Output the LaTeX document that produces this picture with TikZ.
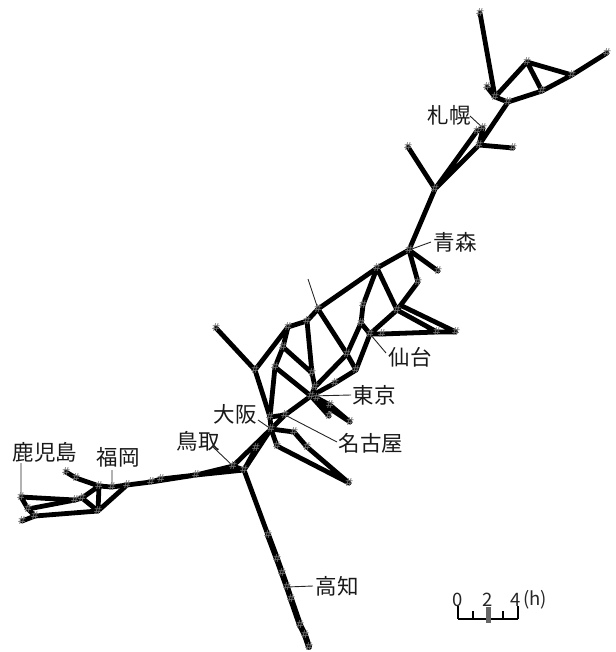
\documentclass[tikz,border=0pt]{standalone}
\usepackage{fontspec}
\setmainfont{Noto Sans CJK JP}
\newfontfamily\hashfont{DejaVu Sans}
\tikzset{
  edge/.style={line width=4.8pt,black,line cap=round,line join=round},
  heavy/.style={line width=6pt,black,line cap=round},
  leader/.style={line width=0.9pt,black!85},
  hashmark/.style={inner sep=0pt,text=black!55,font=\hashfont\fontsize{11}{11}\selectfont},
  lbl/.style={inner sep=0pt,text=black!90,font=\fontsize{21.5}{22}\selectfont},
  scalelbl/.style={inner sep=0pt,text=black!85,font=\fontsize{18.5}{19}\selectfont},
  scaleline/.style={line width=2.8pt,black},
}
\begin{document}
\begin{tikzpicture}[x=1pt,y=-1pt]
\useasboundingbox (0,0) rectangle (615,652);
% stations
\coordinate (a1) at (480,13); \coordinate (a2) at (495,97); \coordinate (a3) at (487,87);
\coordinate (a4) at (527,62); \coordinate (a5) at (508,102); \coordinate (a6) at (542,91);
\coordinate (a7) at (572,75); \coordinate (a8) at (607,53);
\coordinate (b1) at (483,128); \coordinate (b2) at (477,131); \coordinate (b3) at (479,145);
\coordinate (b4) at (513,148); \coordinate (b5) at (408,147); \coordinate (b6) at (435,189);
\coordinate (c1) at (409,250); \coordinate (c2) at (438,271); \coordinate (c3) at (418,282);
\coordinate (c4) at (377,268); \coordinate (c5) at (397,310); \coordinate (c5b) at (402,306);
\coordinate (c6) at (456,332); \coordinate (c7) at (437,332); \coordinate (c8) at (382,334);
\coordinate (c9) at (370,334);
\coordinate (d1) at (363,305); \coordinate (d2) at (361,323); \coordinate (d3) at (347,354);
\coordinate (d4) at (356,370); \coordinate (d5) at (318,309); \coordinate (d5t) at (308,279);
\coordinate (d6) at (307,321); \coordinate (d7) at (288,327); \coordinate (d8) at (216,328);
\coordinate (e1) at (255,370); \coordinate (e2) at (283,347); \coordinate (e3) at (275,367);
\coordinate (e4) at (312,373); \coordinate (e5) at (315,387); \coordinate (e6) at (335,383);
\coordinate (e7) at (311,396); \coordinate (e8) at (317,398); \coordinate (e9) at (330,405);
\coordinate (e10) at (329,416); \coordinate (e11) at (350,422);
\coordinate (f1) at (270,417); \coordinate (f2) at (285,415); \coordinate (f3) at (271,429);
\coordinate (f4) at (294,432); \coordinate (f5) at (277,446); \coordinate (f6) at (307,447);
\coordinate (f7) at (349,483); \coordinate (f8) at (256,448); \coordinate (f9) at (233,466);
\coordinate (f10) at (244,470);
\coordinate (g1) at (196,475); \coordinate (g2) at (161,479); \coordinate (g3) at (151,482);
\coordinate (g4) at (127,485); \coordinate (g5) at (112,487); \coordinate (g6) at (99,486);
\coordinate (g7) at (76,478); \coordinate (g8) at (66,472); \coordinate (g9) at (98,511);
\coordinate (g10) at (82,498); \coordinate (g11) at (75,500); \coordinate (g12) at (21,497);
\coordinate (g13) at (28,509); \coordinate (g14) at (35,516); \coordinate (g15) at (22,521);
\coordinate (h1) at (268,535); \coordinate (h2) at (277,559); \coordinate (h3) at (282,573);
\coordinate (h4) at (287,587); \coordinate (h5) at (291,599); \coordinate (h6) at (300,625);
\coordinate (h7) at (305,635); \coordinate (h8) at (309,647);
% scale anchors
\coordinate (s0) at (458,619); \coordinate (s1) at (473,619); \coordinate (s2) at (488,619);
\coordinate (s3) at (503,619); \coordinate (s4) at (518,619);
\coordinate (s0t) at (458,606); \coordinate (s1t) at (473,611); \coordinate (s2t) at (488,607);
\coordinate (s3t) at (503,611); \coordinate (s4t) at (518,606); \coordinate (s2b) at (488,623);
% leader ends
\coordinate (L1) at (470,116); \coordinate (L2) at (431,242); \coordinate (L3) at (386,353);
\coordinate (L4) at (351,395); \coordinate (L5) at (337,442); \coordinate (L6) at (258,420);
\coordinate (L7) at (213,447); \coordinate (L8) at (112,470); \coordinate (L9) at (21,463);
\coordinate (L10) at (313,586);
% routes
\draw[edge] (a1)--(a2) (a3)--(a2) (a2)--(a4) (a2)--(a5)--(a6)--(a7)--(a8) (a4)--(a6) (a4)--(a7);
\draw[edge] (a5)--(b3)--(b6) (b1)--(b3) (b1)--(b2)--(b6) (b3)--(b4) (b5)--(b6)--(c1);
\draw[edge] (c1)--(c4) (c1)--(c2) (c1)--(c3)--(c5) (c4)--(c5) (c4)--(d1)--(d2)--(d3) (d2)--(c9);
\draw[edge] (c5)--(c9)--(d4)--(e6)--(e7) (c5)--(c7)--(c6)--(c5b) (c9)--(c8)--(c7);
\draw[edge] (d3)--(d4) (d3)--(e5) (c4)--(d5)--(d6)--(d7)--(e1) (d5)--(d3);
\draw[edge] (d6)--(e4)--(e5)--(e7) (d7)--(e2)--(e3)--(f1) (e2)--(e4) (e3)--(e7);
\draw[edge] (d8)--(e1)--(f1)--(f2)--(e7) (f2)--(f3) (f1)--(f3)--(f4)--(f6)--(f7) (f3)--(f5)--(f7);
\draw[edge] (e7)--(e11) (e7)--(e8)--(e9)--(e11) (e8)--(e10) (e7)--(e10);
\draw[edge] (f3)--(f8)--(f10) (f3)--(f9) (f9)--(f10) (f3)--(f10);
\draw[edge] (f10)--(g1)--(g2)--(g3)--(g4)--(g5)--(g6) (f9)--(g1)--(g3);
\draw[edge] (g6)--(g7)--(g8) (g6)--(g9) (g4)--(g9) (g6)--(g10)--(g11)--(g12)--(g13)--(g14)--(g15);
\draw[edge] (g11)--(g13) (g10)--(g9)--(g14);
\draw[edge] (f10)--(h1);
\draw[heavy] (h1)--(h2)--(h3)--(h4)--(h5)--(h6)--(h7)--(h8);
% leaders
\draw[leader] (b1)--(L1) (c1)--(L2) (c9)--(L3) (e7)--(L4) (f2)--(L5) (f3)--(L6) (f9)--(L7) (g5)--(L8) (g12)--(L9) (h4)--(L10) (d5)--(d5t);
% station marks
\foreach \n in {a1,a2,a3,a4,a5,a6,a7,a8,b1,b2,b3,b4,b5,b6,c1,c2,c3,c4,c5,c6,c7,c8,c9,d1,d2,d3,d4,d5,d6,d7,d8,e1,e2,e3,e4,e5,e6,e7,e8,e9,e10,e11,f1,f2,f3,f4,f5,f6,f7,f8,f9,f10,g1,g2,g3,g4,g5,g6,g7,g8,g9,g10,g11,g12,g13,g14,g15,h1,h2,h3,h4,h5,h6,h7,h8}
  \node[hashmark] (m\n) at (\n) {\#};
% labels
\node[lbl] (sapporo) at (449,115) {札幌};
\node[lbl] (aomori) at (455,242) {青森};
\node[lbl] (sendai) at (410,357) {仙台};
\node[lbl] (tokyo) at (374,395) {東京};
\node[lbl] (osaka) at (235,414) {大阪};
\node[lbl] (nagoya) at (371,443) {名古屋};
\node[lbl] (tottori) at (198,441) {鳥取};
\node[lbl] (fukuoka) at (118,457) {福岡};
\node[lbl] (kagoshima) at (45,452) {鹿児島};
\node[lbl] (kochi) at (337,586) {高知};
% scale
\draw[scaleline] (s0)--(s4) (s0)--(s0t) (s1)--(s1t) (s3)--(s3t) (s4)--(s4t);
\draw[line width=5pt,black!60] (s2b)--(s2t);
\node[scalelbl] (t0) at (458,600) {0};
\node[scalelbl] (t2) at (488,600) {2};
\node[scalelbl] (t4) at (516,600) {4};
\node[scalelbl,anchor=west] (th) at (523,600) {(h)};
\end{tikzpicture}
\end{document}
